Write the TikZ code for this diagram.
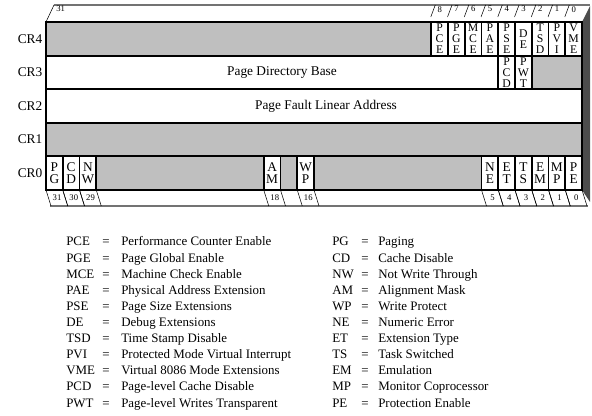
\documentclass[tikz,border=0pt]{standalone}
\usepackage{fontspec}
\setmainfont{Liberation Serif}
\begin{document}
\begin{tikzpicture}[x=0.75pt, y=-0.75pt,
    regline/.style={line width=1.4pt},
    resv/.style={fill=black!25},
    flagbox/.style={draw, line width=1.4pt, fill=white, inner sep=0pt, minimum width=12.56pt, minimum height=25.2pt, align=center, font=\fontsize{8.8}{8.2}\selectfont},
    bitnum/.style={inner sep=0pt, font=\fontsize{6.5}{6.5}\selectfont},
    crlabel/.style={inner sep=0pt, font=\fontsize{10}{12}\selectfont},
    legend/.style={anchor=base west, inner sep=0pt, font=\fontsize{9.7}{11}\selectfont}
]
\useasboundingbox (0,0) rectangle (592,416);

% 3d frame
\fill[black!70] (582,22) -- (590,6) -- (590,202) -- (582,190) -- cycle;
\draw[black!55, line width=1.3pt] (54,5) -- (590,5);
\draw[black!55, line width=1.3pt] (50,206) -- (588,206);
\draw (46,22) -- (54,5);

% register rows
\fill[resv] (46,22) rectangle (582,55.6);
\fill[white] (46,55.6) rectangle (582,122.8);
\fill[resv] (531.75,55.6) rectangle (582,89.2);
\fill[resv] (46,122.8) rectangle (582,190);
\draw[regline] (46,22) rectangle (582,190);
\foreach \y in {55.6,89.2,122.8,156.4}
    \draw[regline] (46,\y) -- (582,\y);

\node (pdb) at (282,72.4) {Page Directory Base};
\node (pfla) at (326,106) {Page Fault Linear Address};

\foreach \r/\y in {4/38.8,3/72.4,2/106,1/139.6,0/173.2}
    \node[crlabel] (cr\r) at (30,\y) {CR\r};

% CR4 flags + bit numbers on top
\foreach \b/\t in {8/P\\C\\E, 7/P\\G\\E, 6/M\\C\\E, 5/P\\A\\E, 4/P\\S\\E, 3/D\\E, 2/T\\S\\D, 1/P\\V\\I, 0/V\\M\\E} {
    \pgfmathsetmacro\xl{46+(31-\b)*16.75}
    \node[flagbox] (cr4-\b) at (\xl+8.375,38.8) {\t};
    \draw (\xl-0.5,17) -- (\xl+4,5);
    \node[bitnum, anchor=north west] (top\b) at (\xl+6,6) {\b};
}
\node[bitnum, anchor=north west] (top31) at (56,6) {31};

% CR3 flags
\foreach \b/\t in {4/P\\C\\D, 3/P\\W\\T} {
    \pgfmathsetmacro\xl{46+(31-\b)*16.75}
    \node[flagbox] (cr3-\b) at (\xl+8.375,72.4) {\t};
}

% CR0 flags + bit numbers below
\foreach \b/\t in {31/P\\G, 30/C\\D, 29/N\\W, 18/A\\M, 16/W\\P, 5/N\\E, 4/E\\T, 3/T\\S, 2/E\\M, 1/M\\P, 0/P\\E} {
    \pgfmathsetmacro\xl{46+(31-\b)*16.75}
    \node[flagbox, font=\fontsize{10}{9.5}\selectfont] (cr0-\b) at (\xl+8.375,173.2) {\t};
    \draw (\xl,190) -- (\xl+5,206);
    \draw (\xl+16.75,190) -- (\xl+21.75,206);
    \node[bitnum] (bot\b) at (\xl+11,197.5) {\b};
}

% legend
\foreach \a/\d [count=\i from 0] in {PCE/Performance Counter Enable, PGE/Page Global Enable,
    MCE/Machine Check Enable, PAE/Physical Address Extension, PSE/Page Size Extensions,
    DE/Debug Extensions, TSD/Time Stamp Disable, PVI/Protected Mode Virtual Interrupt,
    VME/Virtual 8086 Mode Extensions, PCD/Page-level Cache Disable, PWT/Page-level Writes Transparent} {
    \node[legend] (la\i) at (66,246+16.1*\i) {\a};
    \node[legend] (le\i) at (102,246+16.1*\i) {=};
    \node[legend] (ld\i) at (121,246+16.1*\i) {\d};
}
\foreach \a/\d [count=\i from 0] in {PG/Paging, CD/Cache Disable, NW/Not Write Through,
    AM/Alignment Mask, WP/Write Protect, NE/Numeric Error, ET/Extension Type,
    TS/Task Switched, EM/Emulation, MP/Monitor Coprocessor, PE/Protection Enable} {
    \node[legend] (ra\i) at (332,246+16.1*\i) {\a};
    \node[legend] (re\i) at (361,246+16.1*\i) {=};
    \node[legend] (rd\i) at (378,246+16.1*\i) {\d};
}

\end{tikzpicture}
\end{document}
